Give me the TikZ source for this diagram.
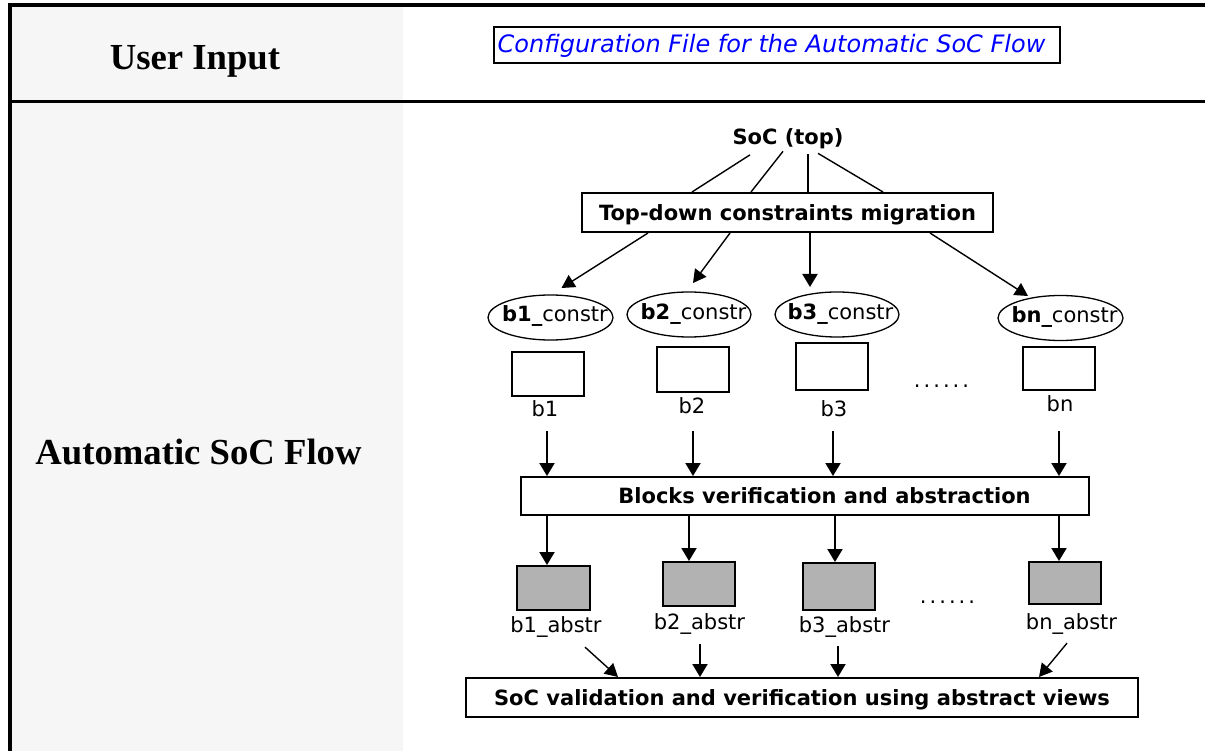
\documentclass[tikz,border=0pt]{standalone}
\usepackage{fontspec}
\setmainfont{Liberation Serif}
\setsansfont{DejaVu Sans}
\usetikzlibrary{arrows.meta,shapes.geometric}
\definecolor{colgray}{HTML}{F6F6F6}
\definecolor{absfill}{HTML}{B2B2B2}
\definecolor{cfgblue}{HTML}{0000FF}
\begin{document}
\begin{tikzpicture}[x=1pt,y=-1pt,
  frame/.style={line width=3.3pt},
  heading/.style={font=\rmfamily\bfseries\fontsize{36.7}{40}\selectfont, inner sep=0pt, text height=24.8pt, text depth=0pt},
  lbl/.style={font=\sffamily\fontsize{21}{25}\selectfont, inner sep=0pt, text height=15.3pt, text depth=0pt},
  blbl/.style={lbl, font=\sffamily\bfseries\fontsize{21}{25}\selectfont},
  stage/.style={blbl, draw, line width=2pt},
  cstr/.style={draw, ellipse, line width=1.3pt, minimum width=125pt, minimum height=45pt, inner sep=0pt},
  blk/.style={draw, line width=2pt, minimum width=72pt, minimum height=44pt, inner sep=0pt},
  absblk/.style={blk, fill=absfill},
  arr/.style={-{Triangle[length=13pt,width=15pt]}, line width=2pt},
  thinarr/.style={-{Triangle[length=13pt,width=14pt]}, line width=1.4pt},
  link/.style={line width=1.4pt},
  dotrow/.style={font=\sffamily\fontsize{21}{25}\selectfont, inner sep=0pt, text height=3pt, text depth=0pt}
]
\useasboundingbox (0,0) rectangle (1205,751);

% table frame with shaded label column
\fill[colgray] (10,5) rectangle (403,751);
\draw[frame] (10,751) -- (10,5) -- (1205,5);
\draw[line width=3pt] (10,102) -- (1205,102);

\node[heading] (ui) at (195,57) {User Input};
\node[heading] (asf) at (198.5,452) {Automatic SoC Flow};

% configuration file
\node[draw, line width=2pt, minimum width=566pt, minimum height=36pt, inner sep=0pt] (cfg) at (777,45) {};
\node[font=\sffamily\itshape\fontsize{24}{28}\selectfont, text=cfgblue, inner sep=0pt, text height=17.5pt, text depth=0pt] (cfgt) at (771.5,43.5) {Configuration File for the Automatic SoC Flow};

% top of the flow
\node[blbl] (soc) at (788,137) {SoC (top)};
\node[stage, minimum width=411pt, minimum height=39pt] (td) at (787.5,212.5) {Top-down constraints migration};

\draw[link] ([shift={(-38,10)}]soc.south) -- ([xshift=-95.5pt]td.north);
\draw[link] ([shift={(-5,6.5)}]soc.south) -- ([xshift=-36.5pt]td.north);
\draw[line width=2pt] ([shift={(20,9.5)}]soc.south) -- ([xshift=20.5pt]td.north);
\draw[link] ([shift={(30,8.5)}]soc.south) -- ([xshift=95.5pt]td.north);

% block constraints
\node[cstr] (e1) at (550.5,317.5) {};
\node[cstr, minimum width=124pt] (e2) at (689,314.5) {};
\node[cstr, minimum width=124pt] (e3) at (837,314.5) {};
\node[cstr] (en) at (1060.5,318) {};
\node[lbl] (e1t) at (555,314.3) {\textbf{b1\_}constr};
\node[lbl] (e2t) at (693.5,312.3) {\textbf{b2\_}constr};
\node[lbl] (e3t) at (840.5,312.3) {\textbf{b3\_}constr};
\node[lbl] (ent) at (1064.5,315.3) {\textbf{bn\_}constr};

\draw[thinarr] ([xshift=-139.5pt]td.south) -- ([shift={(11,-29.5)}]e1.center);
\draw[thinarr] ([xshift=-57.5pt]td.south) -- ([shift={(4,-31.5)}]e2.center);
\draw[arr] ([xshift=22.5pt]td.south) -- ([shift={(-27,-27.5)}]e3.center);
\draw[thinarr] ([xshift=142.5pt]td.south) -- ([shift={(-32.5,-22)}]en.center);

% blocks
\node[blk] (w1) at (548,374) {};
\node[blk, minimum height=45pt] (w2) at (693,369.5) {};
\node[blk, minimum height=47pt] (w3) at (832,366.5) {};
\node[blk, minimum height=43pt] (wn) at (1059,368.5) {};
\node[lbl] (l1) at (545,409.3) {b1};
\node[lbl] (l2) at (692,406.3) {b2};
\node[lbl] (l3) at (834,409.3) {b3};
\node[lbl] (ln) at (1060,404.3) {bn};
\node[dotrow] (d1) at (941.5,386) {.\kern3pt.\kern3pt.\kern3pt.\kern3pt.\kern3pt.};

% verification and abstraction
\node[draw, line width=2pt, minimum width=568pt, minimum height=38pt, inner sep=0pt] (bv) at (805,496) {};
\node[blbl] (bvt) at (824.5,496) {Blocks verification and abstraction};

\coordinate (s1) at (547,431);
\coordinate (s2) at (693,431);
\coordinate (s3) at (833,431);
\coordinate (sn) at (1059,431);
\draw[arr] (s1) -- (s1 |- bv.north);
\draw[arr] (s2) -- (s2 |- bv.north);
\draw[arr] (s3) -- (s3 |- bv.north);
\draw[arr] (sn) -- (sn |- bv.north);

% abstract views
\node[absblk, minimum width=73pt] (g1) at (553.5,588) {};
\node[absblk] (g2) at (699,584) {};
\node[absblk, minimum height=47pt] (g3) at (839,586.5) {};
\node[absblk, minimum height=42pt] (gn) at (1065,583) {};
\node[lbl] (a1) at (556,625.3) {b1\_abstr};
\node[lbl] (a2) at (699.5,622.3) {b2\_abstr};
\node[lbl] (a3) at (844.5,625.3) {b3\_abstr};
\node[lbl] (an) at (1071.5,622.3) {bn\_abstr};
\node[dotrow] (d2) at (947.5,602) {.\kern3pt.\kern3pt.\kern3pt.\kern3pt.\kern3pt.};

\draw[arr] ([xshift=-6.5pt]g1.north |- bv.south) -- ([xshift=-6.5pt]g1.north);
\draw[arr] ([xshift=-10pt]g2.north |- bv.south) -- ([xshift=-10pt]g2.north);
\draw[arr] ([xshift=-4pt]g3.north |- bv.south) -- ([xshift=-4pt]g3.north);
\draw[arr] ([xshift=-6pt]gn.north |- bv.south) -- ([xshift=-6pt]gn.north);

% system-level validation
\node[stage, minimum width=672pt, minimum height=39pt] (sv) at (802,697.5) {SoC validation and verification using abstract views};

\draw[thinarr] ([shift={(29,14)}]a1.south) -- ([xshift=-184pt]sv.north);
\draw[arr] ([shift={(0.5,14)}]a2.south) -- ([xshift=-102pt]sv.north);
\draw[arr] ([shift={(-6.5,13)}]a3.south) -- ([xshift=36pt]sv.north);
\draw[thinarr] ([shift={(-4.5,13)}]an.south) -- ([xshift=237pt]sv.north);
\end{tikzpicture}
\end{document}
